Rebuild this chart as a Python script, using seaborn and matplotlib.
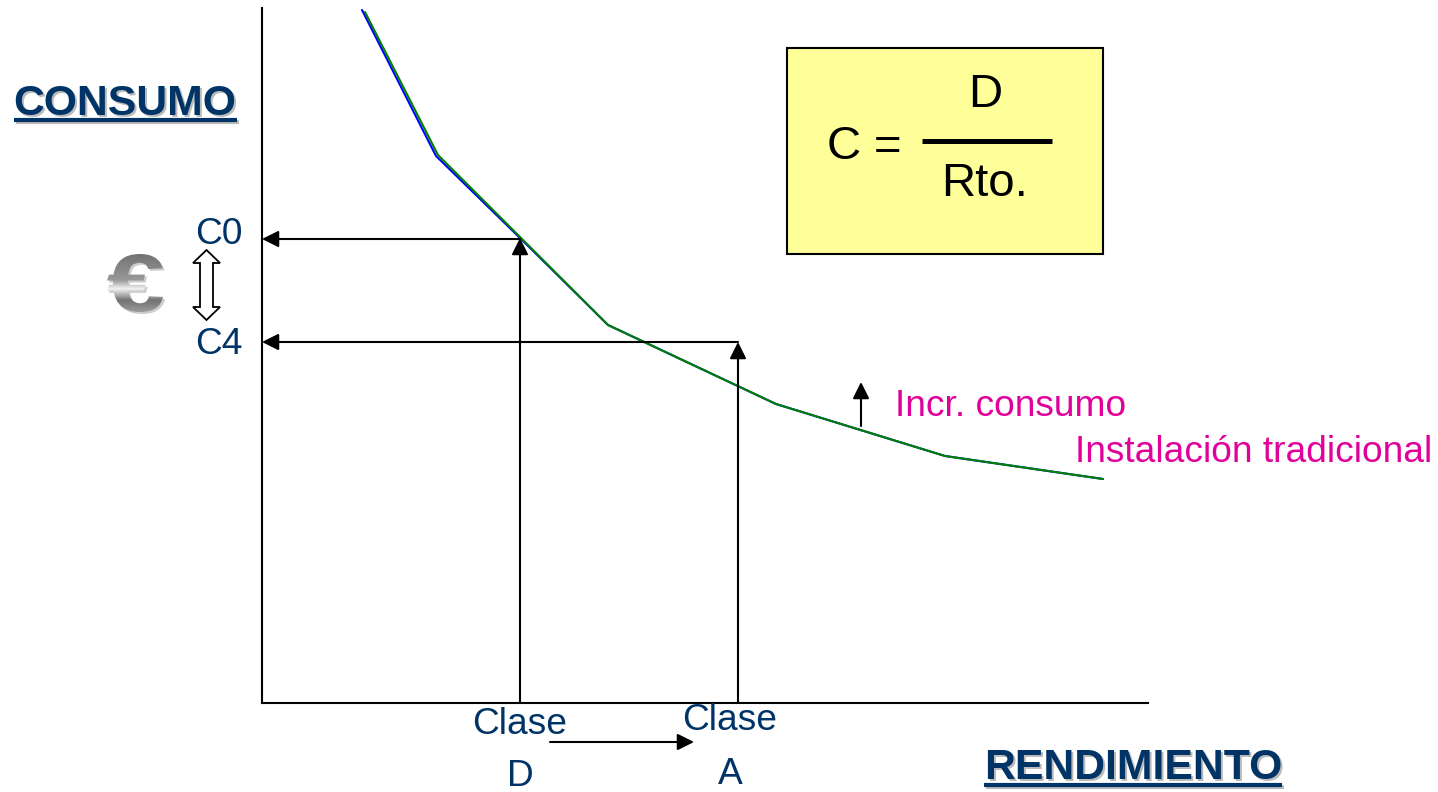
import matplotlib
matplotlib.use("Agg")
import matplotlib.pyplot as plt
from matplotlib.font_manager import FontProperties
from matplotlib.patches import PathPatch, Polygon, Rectangle
from matplotlib.textpath import TextPath
from matplotlib.transforms import Affine2D
import numpy as np
import seaborn as sns
import pandas as pd

sns.set_style("white")
plt.rcParams['font.family'] = ['Liberation Sans', 'DejaVu Sans']

# curvas
rend_azul = [100, 174, 258, 346, 514, 683, 841]
cons_azul = [693, 547, 465, 378, 299, 247, 224]
rend_verde = [103, 176, 259, 346, 514, 683, 841]
cons_verde = [691, 548, 465, 378, 299, 247, 224]

# clases y consumos de referencia
clase_x = [258, 476]   # D, A
consumo_y = [464, 361] # C0, C4

AZUL = "#003366"
MAGENTA = "#E0009A"

df = pd.DataFrame({
    "rend": rend_azul + rend_verde,
    "cons": cons_azul + cons_verde,
    "curva": ["azul"] * len(rend_azul) + ["verde"] * len(rend_verde),
})

fig = plt.figure(figsize=(14.38, 7.92), dpi=100)
ax = fig.add_axes([262 / 1438, 1 - 703 / 792, 886 / 1438, 695 / 792])
sns.lineplot(data=df, x="rend", y="cons", hue="curva", sort=False, ax=ax,
             palette={"azul": "#0000FF", "verde": "#008000"}, linewidth=1.5,
             legend=False, errorbar=None)
ax.set_xlim(0, 886)
ax.set_ylim(0, 695)
ax.set_xticks([])
ax.set_yticks([])
ax.set_xlabel("")
ax.set_ylabel("")
for direction in ['top', 'right']:
    ax.spines[direction].set_visible(False)
for direction in ['left', 'bottom']:
    ax.spines[direction].set_linewidth(1.5)
    ax.spines[direction].set_color("black")

# flechas
estilo = dict(arrowstyle="-|>,head_length=1.0,head_width=0.5", color="black", lw=1.5,
              shrinkA=0, shrinkB=0, mutation_scale=10)


def flecha(a, xy_ini, xy_fin):
    a.annotate("", xy=xy_fin, xytext=xy_ini, arrowprops=estilo, annotation_clip=False)


flecha(ax, (clase_x[0], 0), (clase_x[0], consumo_y[0] + 1))
flecha(ax, (clase_x[1], 0), (clase_x[1], consumo_y[1]))
flecha(ax, (clase_x[0], consumo_y[0]), (0, consumo_y[0]))
flecha(ax, (clase_x[1], consumo_y[1]), (0, consumo_y[1]))

# capa en pixeles para los rotulos
ov = fig.add_axes([0, 0, 1, 1], facecolor="none")

flecha(ov, (550, 742), (694, 742))
flecha(ov, (861, 426), (861, 382))


def titulo(txt, x, y, x0, x1, yline):
    # sombra + texto + subrayado
    ov.text(x + 2, y + 2, txt, color="#BBBBBB", fontsize=30.8, fontweight="bold",
            ha="center", va="center")
    ov.text(x, y, txt, color=AZUL, fontsize=30.8, fontweight="bold", ha="center", va="center")
    ov.plot([x0 + 2, x1 + 2], [yline + 2, yline + 2], color="#BBBBBB", lw=3, solid_capstyle="butt")
    ov.plot([x0, x1], [yline, yline], color=AZUL, lw=3, solid_capstyle="butt")


titulo("CONSUMO", 125, 104, 14, 237, 120)
titulo("RENDIMIENTO", 1133, 768, 984, 1282, 785)

# etiquetas azules
for txt, x, y in [("C0", 219, 235), ("C4", 219, 344), ("Clase", 520, 724), ("D", 520, 776),
                  ("Clase", 730, 721), ("A", 730, 774)]:
    ov.text(x, y, txt, color=AZUL, fontsize=26.7, ha="center", va="center")

# etiquetas magenta
ov.text(895, 407, "Incr. consumo", color=MAGENTA, fontsize=26.7, ha="left", va="center")
ov.text(1075, 453, "Instalación tradicional", color=MAGENTA, fontsize=26.7, ha="left", va="center")

# caja de la formula
ov.add_patch(Rectangle((787, 48), 316, 206, facecolor="#FFFF99", edgecolor="black", lw=1.5))
ov.text(985, 95, "D", fontsize=34, color="black", ha="center", va="center")
ov.text(985, 184, "Rto.", fontsize=34, color="black", ha="center", va="center")
ov.text(827, 147, "C", fontsize=34, color="black", ha="left", va="center")
ov.text(874, 148, "=", fontsize=34, color="black", ha="left", va="center")
ov.plot([922, 1052], [141, 141], color="black", lw=3.6, solid_capstyle="butt")

# doble flecha hueca
ov.add_patch(Polygon([(206.5, 250), (220, 263), (213, 263), (213, 307), (220, 307), (206.5, 320),
                      (193, 307), (200, 307), (200, 263), (193, 263)],
                     closed=True, facecolor="white", edgecolor="black", lw=1.3))

# euro metalizado: texto como trazo relleno con degradado
tp = TextPath((0, 0), "€", size=1, prop=FontProperties(family="Liberation Sans", weight="bold"))
caja = tp.get_extents()
x0, x1, y0, y1 = 107, 163, 254, 312
trans = (Affine2D().translate(-caja.x0, -caja.y0)
         .scale((x1 - x0) / caja.width, -(y1 - y0) / caja.height).translate(x0, y1))
path_euro = tp.transformed(trans)
ov.add_patch(PathPatch(path_euro.transformed(Affine2D().translate(2, 2)), facecolor="#CCCCCC",
                       edgecolor="none"))
grad = np.interp(np.linspace(0, 1, 64), [0, 0.45, 0.6, 0.8, 1], [0.45, 0.6, 0.95, 0.45, 0.6])
img = ov.imshow(grad[:, None], extent=(x0, x1, y1, y0), cmap="gray", vmin=0, vmax=1,
                aspect="auto", zorder=3)
img.set_clip_path(PathPatch(path_euro, transform=ov.transData))

ov.set_xlim(0, 1438)
ov.set_ylim(792, 0)
ov.axis("off")

fig.savefig("out.png", dpi=100, facecolor="white")
